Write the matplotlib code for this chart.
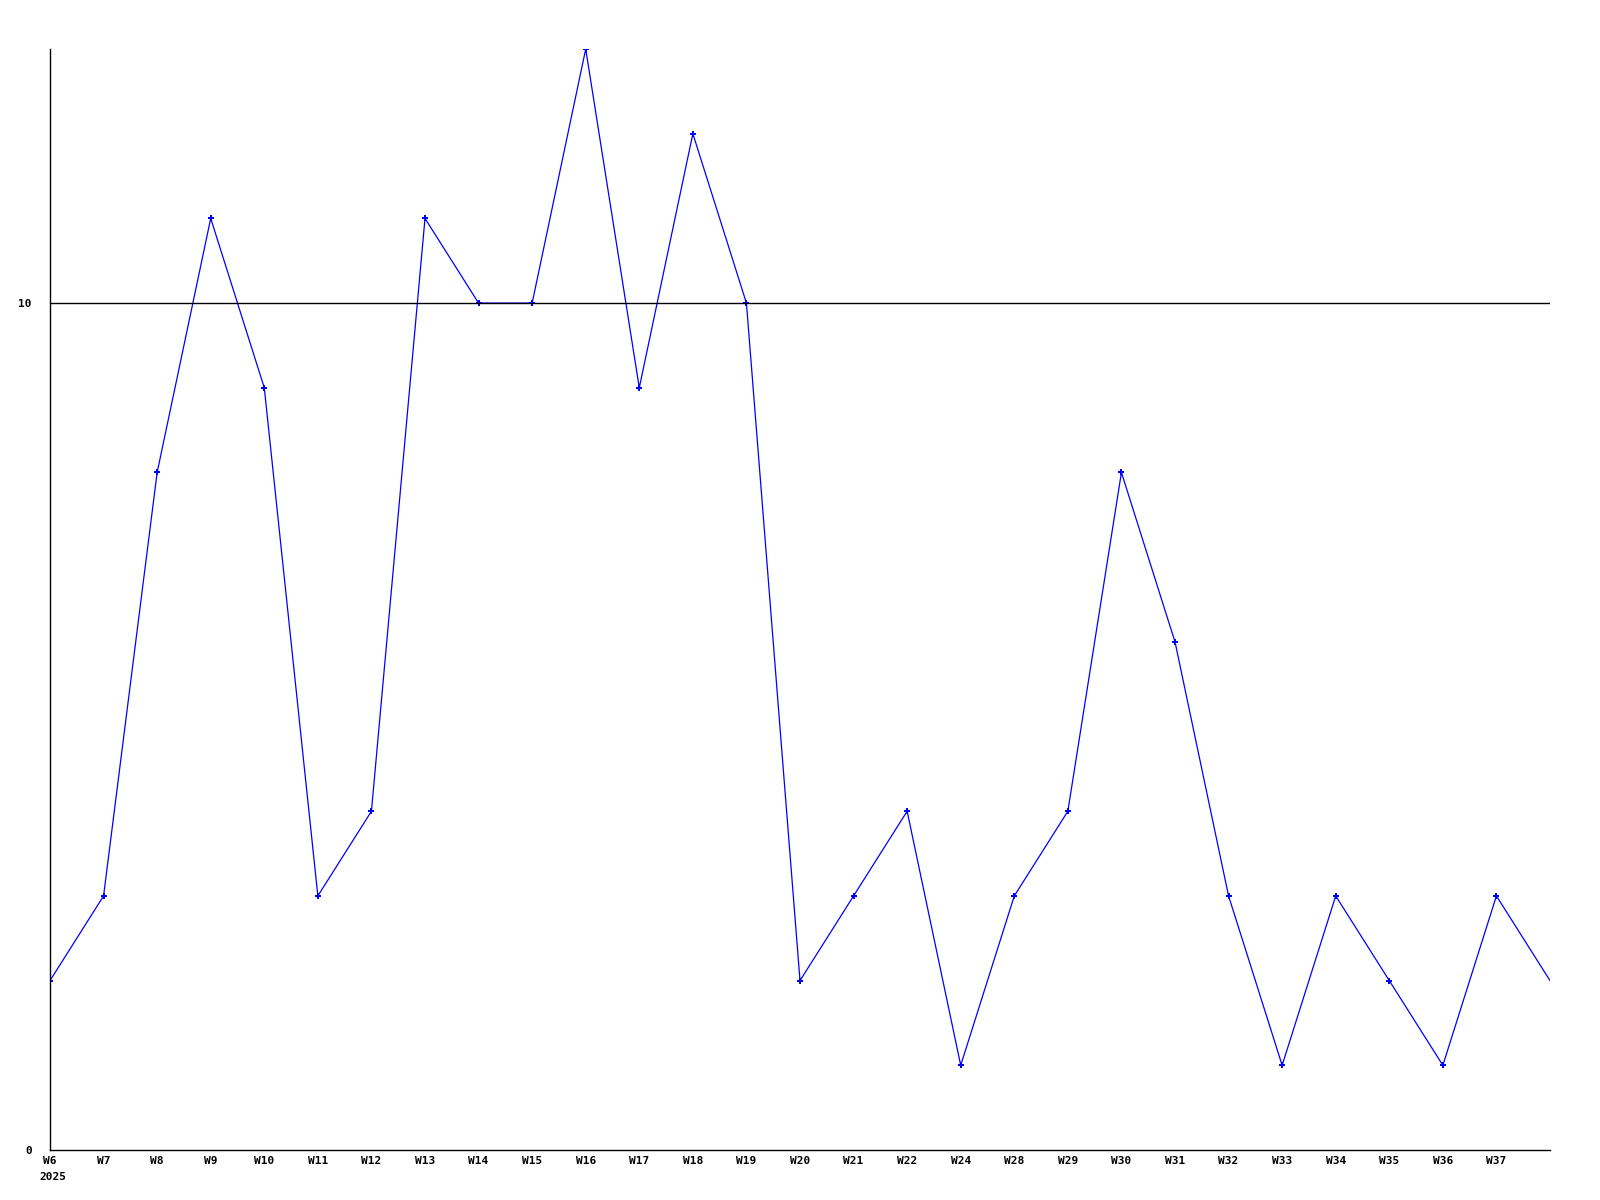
import matplotlib
matplotlib.use("Agg")
import matplotlib.pyplot as plt

weeks = ["W6", "W7", "W8", "W9", "W10", "W11", "W12", "W13", "W14", "W15",
         "W16", "W17", "W18", "W19", "W20", "W21", "W22", "W24", "W28", "W29",
         "W30", "W31", "W32", "W33", "W34", "W35", "W36", "W37", ""]
values = [2, 3, 8, 11, 9, 3, 4, 11, 10, 10,
          13, 9, 12, 10, 2, 3, 4, 1, 3, 4,
          8, 6, 3, 1, 3, 2, 1, 3, 2]
y_ticks = [0, 10]
year_label = "2025"

font = {"family": "DejaVu Sans Mono", "weight": "bold", "size": 8}

fig = plt.figure(figsize=(16, 12), dpi=100)
ax = fig.add_axes([50/1600, 50/1200, 1500/1600, 1101/1200])
x = list(range(len(values)))
ax.plot(x, values, color="#0000ff", linewidth=0.9, marker="P", markersize=4,
        markeredgewidth=0, markevery=list(range(len(values) - 1)))
ax.set_xlim(0, len(values) - 1)
ax.set_ylim(0, 13)
ax.axhline(10, color="black", linewidth=1)
for s in ["top", "right"]:
    ax.spines[s].set_visible(False)
for s in ["left", "bottom"]:
    ax.spines[s].set_linewidth(1)
    ax.spines[s].set_color("black")
ax.set_xticks(x[:-1])
ax.set_xticklabels(weeks[:-1], fontdict=font)
ax.set_yticks(y_ticks)
ax.set_yticklabels([str(v) for v in y_ticks], fontdict=font)
ax.tick_params(axis="x", length=0, pad=4)
ax.tick_params(axis="y", length=0, pad=13)
ax.text(-0.2, -0.020, year_label, transform=ax.get_xaxis_transform(),
        ha="left", va="top", fontdict=font)
fig.savefig("out.png", dpi=100)
